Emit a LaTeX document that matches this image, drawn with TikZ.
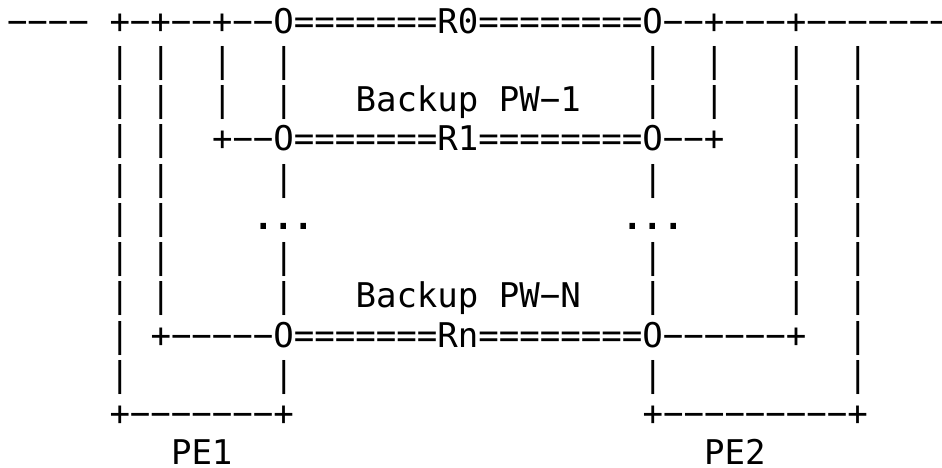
\documentclass[tikz,border=0pt]{standalone}
\usepackage{fontspec}
\newfontfamily\asciifont{DejaVu Sans Mono}
\newcommand\asciiseg[3]{\node[txt] (s#2x#1) at ({7+20.5*#1},{-33-39.25*#2}) {#3};}
\begin{document}
\begin{tikzpicture}[x=1pt,y=1pt,
  txt/.style={anchor=base west, inner sep=0pt, outer sep=0pt,
    font=\asciifont\fontsize{34.05}{39}\selectfont}]
\useasboundingbox[fill=white] (0,0) rectangle (942,-467);
% row 0
\asciiseg{0}{0}{−−−−}
\asciiseg{5}{0}{+−+−−+−−O=======R0========O−−+−−−+−−−−−−−}
% row 1
\foreach \c in {5,7,10,13,31,34,38,41} {\asciiseg{\c}{1}{|}}
% row 2
\foreach \c in {5,7,10,13,31,34,38,41} {\asciiseg{\c}{2}{|}}
\asciiseg{17}{2}{Backup PW−1}
% row 3
\foreach \c in {5,7,38,41} {\asciiseg{\c}{3}{|}}
\asciiseg{10}{3}{+−−O=======R1========O−−+}
% row 4
\foreach \c in {5,7,13,31,38,41} {\asciiseg{\c}{4}{|}}
% row 5
\foreach \c in {5,7,38,41} {\asciiseg{\c}{5}{|}}
\asciiseg{12}{5}{\bfseries ...}
\asciiseg{30}{5}{\bfseries ...}
% row 6
\foreach \c in {5,7,13,31,38,41} {\asciiseg{\c}{6}{|}}
% row 7
\foreach \c in {5,7,13,31,38,41} {\asciiseg{\c}{7}{|}}
\asciiseg{17}{7}{Backup PW−N}
% row 8
\foreach \c in {5,41} {\asciiseg{\c}{8}{|}}
\asciiseg{7}{8}{+−−−−−O=======Rn========O−−−−−−+}
% row 9
\foreach \c in {5,13,31,41} {\asciiseg{\c}{9}{|}}
% row 10
\asciiseg{5}{10}{+−−−−−−−+}
\asciiseg{31}{10}{+−−−−−−−−−+}
% row 11
\asciiseg{8}{11}{PE1}
\asciiseg{34}{11}{PE2}
\end{tikzpicture}
\end{document}
